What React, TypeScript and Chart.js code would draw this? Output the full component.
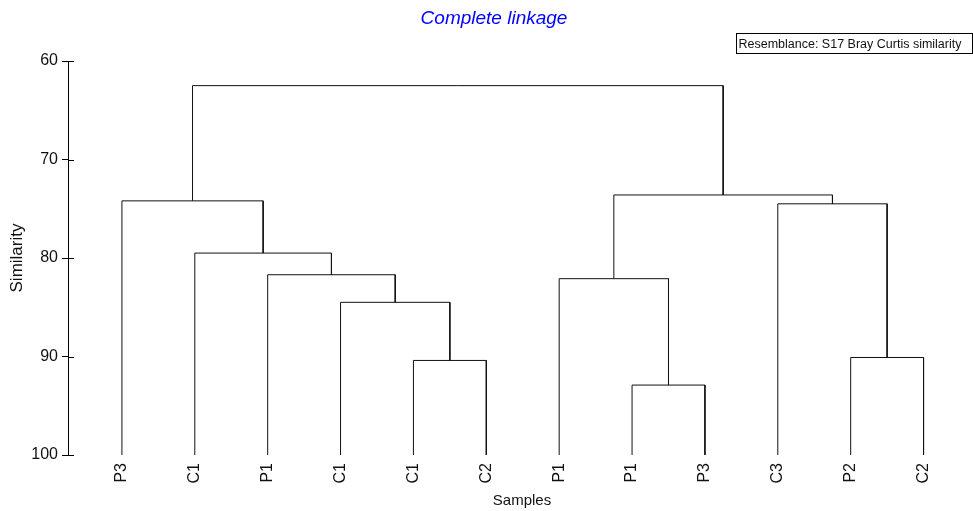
import React, { useEffect, useRef } from "react";
import { Chart, registerables } from "chart.js";

Chart.register(...registerables);

// ---- Data ----
const leafLabels = ["P3", "C1", "P1", "C1", "C1", "C2", "P1", "P1", "P3", "C3", "P2", "C2"];
// Merge steps: node ids < 12 are leaves, node id 12 + k is the k-th merge
const mergeA = [4, 3, 2, 1, 0, 7, 6, 10, 9, 18, 16];
const mergeB = [5, 12, 13, 14, 15, 8, 17, 11, 19, 20, 21];
const mergeSimilarity = [90.4, 84.5, 81.7, 79.5, 74.2, 92.9, 82.1, 90.1, 74.5, 73.6, 62.5];
const yTickValues = [60, 70, 80, 90, 100];
const leafSimilarity = 100;

const chartTitle = "Complete linkage";
const resemblanceText = "Resemblance: S17 Bray Curtis similarity";
const xTitle = "Samples";
const yTitle = "Similarity";

const FONT = "'Liberation Sans', Arial, sans-serif";

function buildDatasets() {
  const xs: number[] = leafLabels.map((_, i) => i);
  const hs: number[] = leafLabels.map(() => leafSimilarity);
  const sets: any[] = [];
  mergeA.forEach((a, k) => {
    const b = mergeB[k];
    const h = mergeSimilarity[k];
    sets.push({
      data: [
        { x: xs[a], y: hs[a] },
        { x: xs[a], y: h },
        { x: xs[b], y: h },
        { x: xs[b], y: hs[b] },
      ],
      borderColor: "#111",
      borderWidth: 1,
      pointRadius: 0,
      tension: 0,
      fill: false,
    });
    xs.push((xs[a] + xs[b]) / 2);
    hs.push(h);
  });
  return sets;
}

const decorPlugin = {
  id: "decor",
  afterDraw(chart: any) {
    const { ctx, chartArea, scales } = chart;
    const y = scales.y;
    ctx.save();
    // inward half of the crossing y ticks
    ctx.strokeStyle = "#000";
    ctx.lineWidth = 1;
    yTickValues.forEach((v) => {
      const py = Math.round(y.getPixelForValue(v)) + 0.5;
      ctx.beginPath();
      ctx.moveTo(chartArea.left, py);
      ctx.lineTo(chartArea.left + 6, py);
      ctx.stroke();
    });
    // title
    ctx.fillStyle = "#0000ff";
    ctx.font = `italic 19px ${FONT}`;
    ctx.textAlign = "center";
    ctx.textBaseline = "alphabetic";
    ctx.fillText(chartTitle, 494, 24);
    // x title
    ctx.fillStyle = "#111";
    ctx.font = `15px ${FONT}`;
    ctx.fillText(xTitle, 522, 505);
    // resemblance box
    ctx.strokeStyle = "#000";
    ctx.strokeRect(736.5, 33.5, 236, 20);
    ctx.font = `12.5px ${FONT}`;
    ctx.textAlign = "left";
    ctx.fillStyle = "#111";
    ctx.fillText(resemblanceText, 738.5, 48);
    ctx.restore();
  },
};

export default function App() {
  const ref = useRef<HTMLCanvasElement | null>(null);
  useEffect(() => {
    if (!ref.current) return;
    const chart = new Chart(ref.current, {
      type: "line",
      data: { datasets: buildDatasets() },
      options: {
        responsive: false,
        animation: false,
        layout: { padding: { top: 61, right: 13, left: 0, bottom: 0 } },
        plugins: {
          legend: { display: false },
          tooltip: { enabled: false },
          title: { display: false },
        },
        scales: {
          x: {
            type: "linear",
            min: -0.74,
            max: 11.5,
            afterBuildTicks: (scale: any) => {
              scale.ticks = leafLabels.map((_, i) => ({ value: i }));
            },
            afterFit: (scale: any) => {
              scale.height = 56;
            },
            ticks: {
              autoSkip: false,
              maxRotation: 90,
              minRotation: 90,
              padding: 8,
              color: "#111",
              font: { family: FONT, size: 16 },
              callback: (v: any) => leafLabels[v as number] ?? "",
            },
            grid: { display: false, drawTicks: false },
            border: { display: false },
          },
          y: {
            type: "linear",
            reverse: true,
            min: 60,
            max: 100,
            afterBuildTicks: (scale: any) => {
              scale.ticks = yTickValues.map((v) => ({ value: v }));
            },
            afterFit: (scale: any) => {
              scale.width = 68;
            },
            ticks: {
              padding: 4,
              color: "#111",
              font: { family: FONT, size: 16 },
            },
            grid: {
              display: true,
              drawOnChartArea: false,
              drawTicks: true,
              tickLength: 6,
              color: "#000",
            },
            border: { display: true, color: "#000", width: 1 },
            title: {
              display: true,
              text: yTitle,
              color: "#111",
              font: { family: FONT, size: 17 },
              padding: { top: 7, bottom: 0 },
            },
          },
        },
      },
      plugins: [decorPlugin],
    });
    return () => chart.destroy();
  }, []);
  return (
    <div style={{ position: "absolute", left: 0, top: 0, width: 973, height: 511, background: "#fff" }}>
      <canvas ref={ref} width={973} height={511} />
    </div>
  );
}
